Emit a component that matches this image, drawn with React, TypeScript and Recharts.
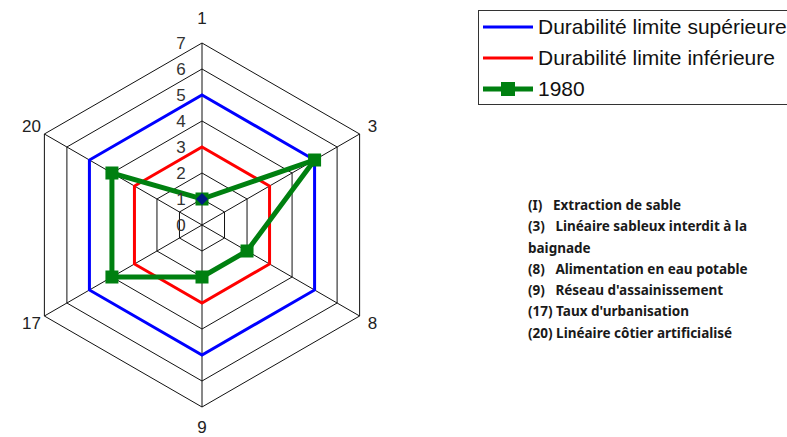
import React from "react";
import {
  RadarChart,
  Radar,
  PolarGrid,
  PolarAngleAxis,
  PolarRadiusAxis,
} from "recharts";

const indicators = ["1", "3", "8", "9", "17", "20"];
const upperLimit = [5, 5, 5, 5, 5, 5];
const lowerLimit = [3, 3, 3, 3, 3, 3];
const year1980 = [1, 5, 2, 2, 4, 4];
const radiusTicks = [0, 1, 2, 3, 4, 5, 6, 7];

const notes = [
  "(I)   Extraction de sable",
  "(3)   Linéaire sableux interdit à la",
  "baignade",
  "(8)   Alimentation en eau potable",
  "(9)   Réseau d'assainissement",
  "(17) Taux d'urbanisation",
  "(20) Linéaire côtier artificialisé",
];

const data = indicators.map((axis, i) => ({
  axis,
  upper: upperLimit[i],
  lower: lowerLimit[i],
  y1980: year1980[i],
}));

const BLUE = "#0000ff";
const RED = "#ff0000";
const GREEN = "#008010";
const CX = 202;
const CY = 225;

function AngleTick({ x, y, payload }: any) {
  const dx = x - CX;
  const dy = y - CY;
  const len = Math.sqrt(dx * dx + dy * dy) || 1;
  let r = 197;
  if (Math.abs(dx) < 1) r = dy < 0 ? 207 : 202;
  return (
    <text
      x={CX + (dx / len) * r}
      y={CY + (dy / len) * r}
      textAnchor="middle"
      dominantBaseline="central"
      fontSize={17}
      fill="#222"
    >
      {payload.value}
    </text>
  );
}

function RadiusTick({ x, y, payload }: any) {
  return (
    <text
      x={x - 21}
      y={y}
      textAnchor="middle"
      dominantBaseline="central"
      fontSize={17}
      fill="#333"
    >
      {payload.value}
    </text>
  );
}

function GreenDot(props: any) {
  const { cx, cy, index } = props;
  return (
    <g key={`d-${index}`}>
      <rect x={cx - 6.5} y={cy - 6.5} width={13} height={13} fill={GREEN} />
      {index === 0 && (
        <polygon
          points={`${cx},${cy - 6} ${cx + 6},${cy} ${cx},${cy + 6} ${cx - 6},${cy}`}
          fill="#001a80"
        />
      )}
    </g>
  );
}

const legendRows = [
  { label: "Durabilité limite supérieure", color: BLUE, w: 3, marker: false },
  { label: "Durabilité limite inférieure", color: RED, w: 3, marker: false },
  { label: "1980", color: GREEN, w: 5, marker: true },
];

function LegendBox() {
  return (
    <div
      style={{
        position: "absolute",
        left: 478,
        top: 10,
        border: "1.5px solid #333",
        width: 340,
        height: 95,
        boxSizing: "border-box",
        paddingTop: 0,
        fontFamily: "Liberation Sans, Arial, sans-serif",
        fontSize: 21,
        color: "#111",
      }}
    >
      {legendRows.map((r) => (
        <div key={r.label} style={{ display: "flex", alignItems: "center", height: 31 }}>
          <svg width={59} height={20} style={{ flex: "none" }}>
            <line x1={4} y1={10} x2={54} y2={10} stroke={r.color} strokeWidth={r.w} />
            {r.marker && <rect x={22} y={3} width={14} height={14} fill={r.color} />}
          </svg>
          <span style={{ whiteSpace: "nowrap" }}>{r.label}</span>
        </div>
      ))}
    </div>
  );
}

export default function App() {
  return (
    <div
      style={{
        position: "absolute",
        left: 0,
        top: 0,
        width: 787,
        height: 437,
        background: "#fff",
        overflow: "hidden",
        fontFamily: "Liberation Sans, Arial, sans-serif",
      }}
    >
      <RadarChart
        width={420}
        height={437}
        data={data}
        cx={CX}
        cy={CY}
        outerRadius={182}
        margin={{ top: 0, right: 0, bottom: 0, left: 0 }}
      >
        <PolarGrid gridType="polygon" stroke="#111" strokeWidth={1} />
        <PolarAngleAxis dataKey="axis" tick={<AngleTick />} tickLine={false} axisLine={false} />
        <PolarRadiusAxis
          angle={90}
          domain={[0, 7]}
          ticks={radiusTicks as any}
          tickCount={8}
          axisLine={false}
          tick={<RadiusTick />}
        />
        <Radar
          name="Durabilité limite supérieure"
          dataKey="upper"
          stroke={BLUE}
          strokeWidth={3}
          fill="none"
          fillOpacity={0}
          dot={false}
          isAnimationActive={false}
        />
        <Radar
          name="Durabilité limite inférieure"
          dataKey="lower"
          stroke={RED}
          strokeWidth={3}
          fill="none"
          fillOpacity={0}
          dot={false}
          isAnimationActive={false}
        />
        <Radar
          name="1980"
          dataKey="y1980"
          stroke={GREEN}
          strokeWidth={5}
          fill="none"
          fillOpacity={0}
          dot={GreenDot}
          isAnimationActive={false}
        />
      </RadarChart>
      <LegendBox />
      <div
        style={{
          position: "absolute",
          left: 528,
          top: 195,
          width: 259,
          fontFamily: "Liberation Sans Narrow, Noto Sans, sans-serif",
          fontWeight: "bold",
          fontSize: 13.5,
          lineHeight: "21.3px",
          color: "#1a1a1a",
          whiteSpace: "pre",
        }}
      >
        {notes.map((n) => (
          <div key={n}>{n}</div>
        ))}
      </div>
    </div>
  );
}
